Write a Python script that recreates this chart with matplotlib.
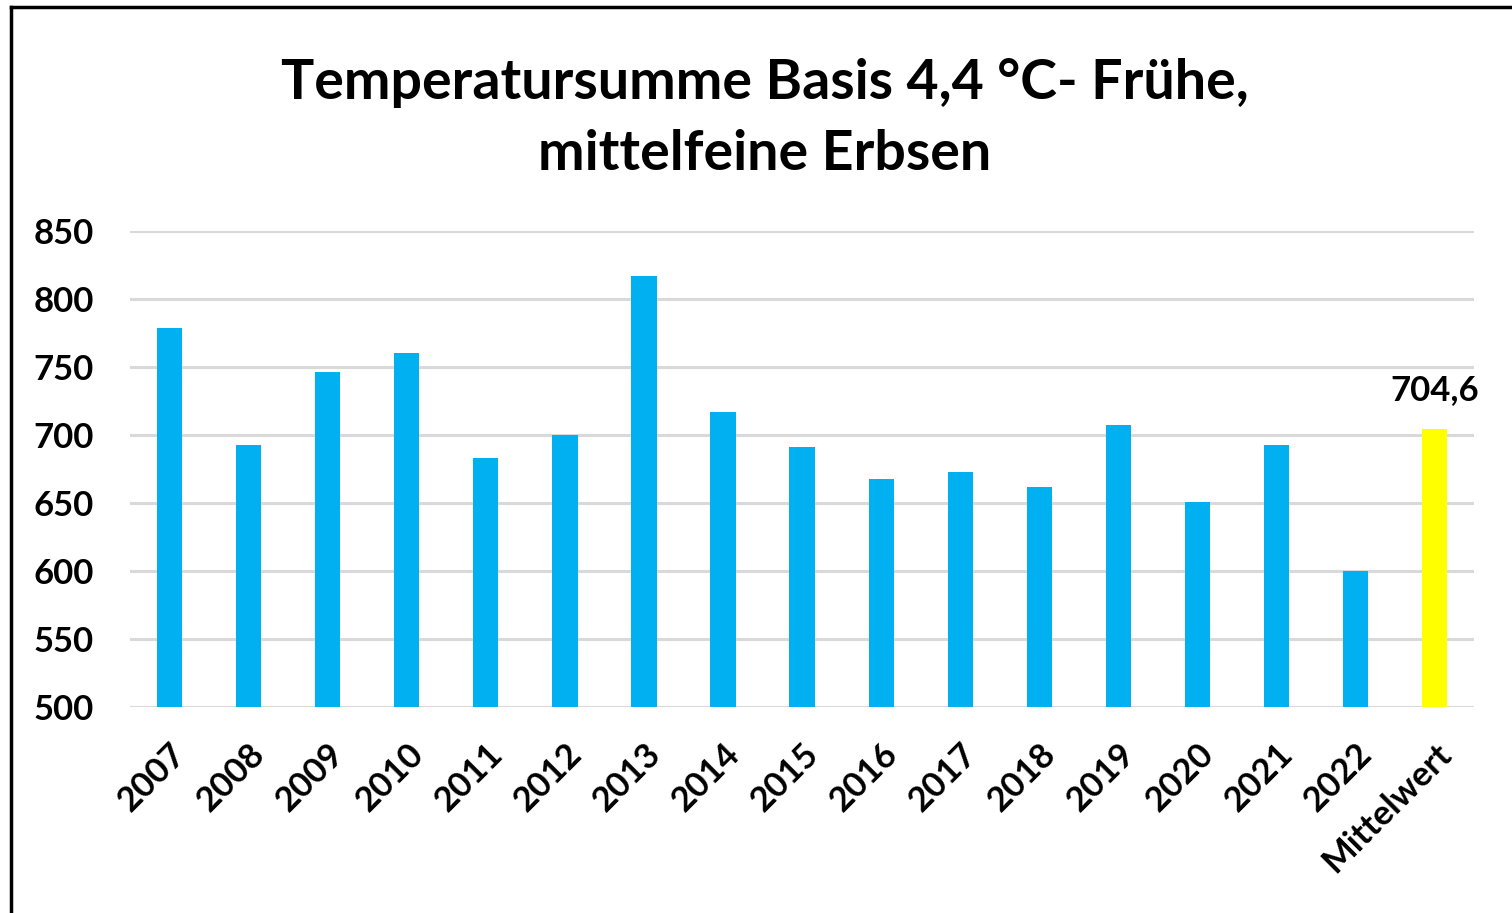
import matplotlib.pyplot as plt
from matplotlib.lines import Line2D

# Daten
kategorien = ['2007', '2008', '2009', '2010', '2011', '2012', '2013', '2014',
              '2015', '2016', '2017', '2018', '2019', '2020', '2021', '2022',
              'Mittelwert']
werte = [779, 693, 746, 760, 683, 700, 817, 717,
         691, 668, 673, 662, 707, 651, 693, 600, 704.6]
farben = ['#00b0f0'] * 16 + ['#ffff00']
y_ticks = [500, 550, 600, 650, 700, 750, 800, 850]

plt.rcParams['font.family'] = ['Lato', 'DejaVu Sans']

fig = plt.figure(figsize=(15.12, 9.13), dpi=100)
ax = fig.add_axes([0.086, 0.2256, 0.889, 0.5214])

x = list(range(len(kategorien)))
ax.bar(x, [w - 500 for w in werte], bottom=500, width=0.32, color=farben, zorder=3)

ax.set_xlim(-0.5, len(kategorien) - 0.5)
ax.set_ylim(500, 850)
ax.set_yticks(y_ticks)
ax.set_yticklabels([str(t) for t in y_ticks], fontsize=25, fontweight='bold')
ax.grid(axis='y', color='#d9d9d9', linewidth=2.2, zorder=0)
ax.tick_params(length=0)
ax.tick_params(axis='y', pad=26)
for s in ax.spines.values():
    s.set_visible(False)

ax.set_xticks(x)
ax.set_xticklabels(kategorien, rotation=45, ha='right', rotation_mode='anchor',
                   fontsize=25, fontweight='bold')
ax.tick_params(axis='x', pad=22)

# Wert-Beschriftung Mittelwert
ax.text(x[-1], werte[-1] + 17, '704,6', ha='center', va='bottom',
        fontsize=25, fontweight='bold')

fig.text(0.506, 0.87, 'Temperatursumme Basis 4,4 °C- Frühe,\nmittelfeine Erbsen',
         ha='center', va='center', fontsize=40, fontweight='bold', linespacing=1.5)

# Rahmen
fig.add_artist(Line2D([0.007, 1.0], [0.992, 0.992], transform=fig.transFigure,
                      color='black', linewidth=2.5))
fig.add_artist(Line2D([0.0075, 0.0075], [0.0, 0.992], transform=fig.transFigure,
                      color='black', linewidth=2.5))

fig.savefig('out.png', dpi=100)
